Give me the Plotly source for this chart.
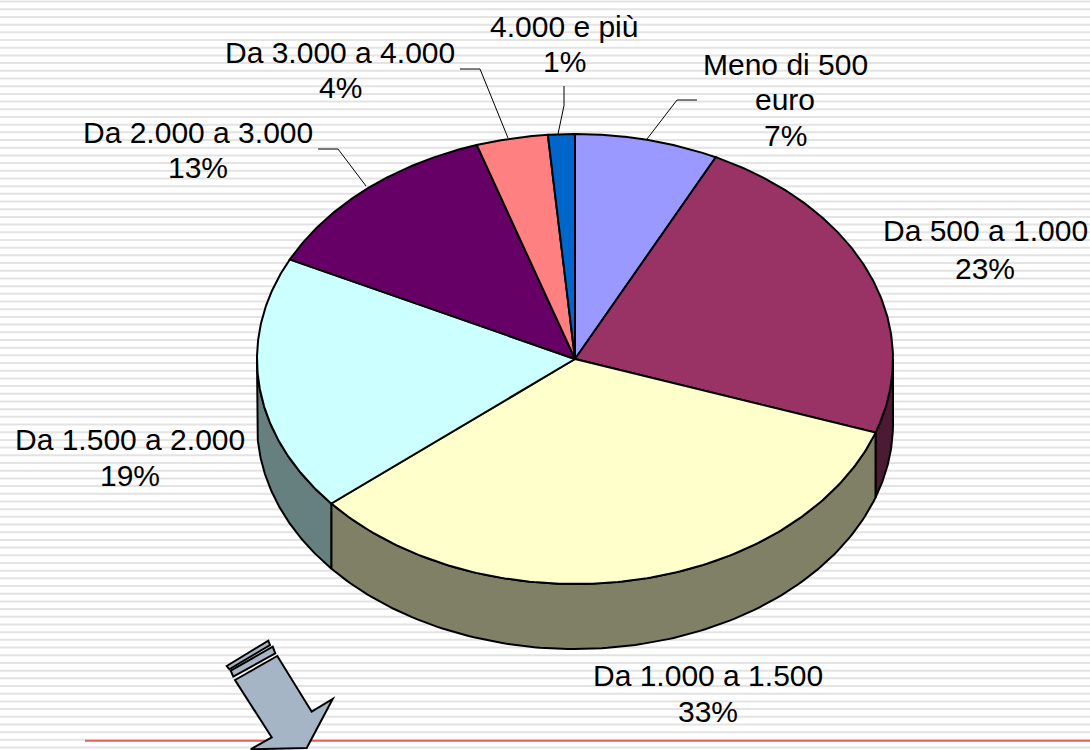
import numpy as np
import plotly.graph_objects as go

# ---- data ----
categories = ["Meno di 500<br>euro", "Da 500 a 1.000", "Da 1.000 a 1.500", "Da 1.500 a 2.000",
              "Da 2.000 a 3.000", "Da 3.000 a 4.000", "4.000 e più"]
percent_labels = ["7%", "23%", "33%", "19%", "13%", "4%", "1%"]
values = [7.3, 23.0, 33.6, 18.4, 12.7, 3.64, 1.36]
top_colors = ["#9999ff", "#993366", "#ffffcc", "#ccffff", "#660066", "#ff8080", "#0066cc"]
side_colors = ["#4d4d80", "#4d1a33", "#808066", "#668080", "#330033", "#804040", "#003366"]

# label centres (x) and line centres (y) in page pixels
label_x = [785, 985, 708, 130, 198, 340, 564]
label_y = [[64, 99, 135], [230, 268], [675, 711], [439, 475], [132, 167], [52, 87], [26, 61]]
leaders = [[(697, 100), (677, 100), (647, 139)],
           [(318, 149), (338, 149), (366, 186)],
           [(460, 69), (480, 69), (508, 138)],
           [(564, 86), (564, 105.5), (558, 134)]]

CX, CY, RX, RY, DEPTH = 575, 359, 318, 225, 65
W, H = 1090, 750
FONT = dict(family="Liberation Sans, Arial, sans-serif", size=30, color="black")


def ell(t, dy=0.0):
    return CX + RX * np.sin(t), CY - RY * np.cos(t) + dy


fig = go.Figure()
edges = np.cumsum([0] + values) / sum(values) * 2 * np.pi

# side walls (front half only)
for i in range(len(values)):
    a, b = max(edges[i], np.pi / 2), min(edges[i + 1], 3 * np.pi / 2)
    if b <= a:
        continue
    t = np.linspace(a, b, 120)
    x1, y1 = ell(t)
    x2, y2 = ell(t[::-1], DEPTH)
    fig.add_trace(go.Scatter(x=np.r_[x1, x2, x1[0]], y=np.r_[y1, y2, y1[0]], mode="lines", fill="toself",
                             fillcolor=side_colors[i], line=dict(color="black", width=2),
                             hoverinfo="skip", showlegend=False))
# top face
for i in range(len(values)):
    t = np.linspace(edges[i], edges[i + 1], 160)
    x, y = ell(t)
    fig.add_trace(go.Scatter(x=np.r_[CX, x, CX], y=np.r_[CY, y, CY], mode="lines", fill="toself",
                             fillcolor=top_colors[i], line=dict(color="black", width=2),
                             hoverinfo="skip", showlegend=False))

# labels
for name, pct, lx, ly in zip(categories, percent_labels, label_x, label_y):
    for line, yy in zip(name.split("<br>") + [pct], ly):
        fig.add_annotation(x=lx, y=yy, text=line, showarrow=False, font=FONT,
                           xanchor="center", yanchor="middle")


def path(pts, close=False):
    return "M" + " L".join(f"{x},{y}" for x, y in pts) + (" Z" if close else "")


shapes = []
# striped background
stripes = " ".join(f"M0,{y:.2f} L{W},{y:.2f}" for y in np.arange(1.6, H, 7.69))
shapes.append(dict(type="path", path=stripes, line=dict(color="#e3e3e3", width=2), layer="below"))
# red rule
shapes.append(dict(type="line", x0=85, x1=W, y0=740.7, y1=740.7, line=dict(color="#e06060", width=2), layer="below"))
# leader lines
for pts in leaders:
    shapes.append(dict(type="path", path=path(pts), line=dict(color="black", width=1), layer="below"))
# arrow
ARROW = "#a5b5c5"
arrow_parts = [
    [(226.7, 666), (268.3, 640.7), (270, 645), (229.3, 669.3)],
    [(230.7, 670.7), (272.7, 646.7), (275.3, 653.3), (233.3, 676.7)],
    [(235, 680), (277.3, 656), (311.7, 711.7), (332.7, 699), (306.7, 748), (250.7, 749.3), (271.7, 737.3)],
]
for pts in arrow_parts:
    shapes.append(dict(type="path", path=path(pts, True), fillcolor=ARROW,
                       line=dict(color="black", width=2), layer="below"))

fig.update_layout(
    width=W, height=H, margin=dict(l=0, r=0, t=0, b=0), showlegend=False,
    paper_bgcolor="white", plot_bgcolor="white", shapes=shapes,
    xaxis=dict(range=[0, W], visible=False, fixedrange=True),
    yaxis=dict(range=[H, 0], visible=False, fixedrange=True),
)
fig.write_html("out.html", config=dict(displayModeBar=False),
               post_script="document.body.style.margin='0';")
